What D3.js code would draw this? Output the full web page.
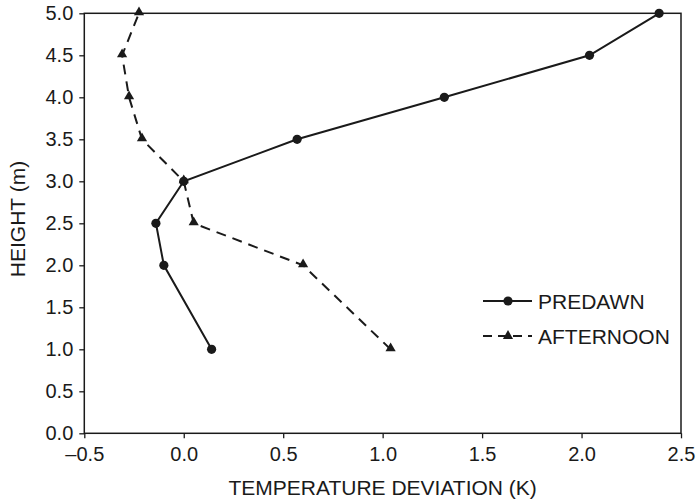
<!DOCTYPE html>
<html>
<head>
<meta charset="utf-8">
<script src="https://cdn.jsdelivr.net/npm/d3@7"></script>
<style>
  body { margin: 0; background: #fff; }
  text { font-family: "Liberation Sans", Arial, Helvetica, sans-serif; fill: #1a1a1a; }
</style>
</head>
<body>
<svg id="chart" width="698" height="501"></svg>
<script>
// Data
const heights = [1.0, 2.0, 2.5, 3.0, 3.5, 4.0, 4.5, 5.0];
const predawn = [0.14, -0.10, -0.14, 0.0, 0.57, 1.31, 2.04, 2.39];
const afternoon = [1.04, 0.60, 0.05, 0.0, -0.21, -0.275, -0.31, -0.225];
const xTicks = [-0.5, 0.0, 0.5, 1.0, 1.5, 2.0, 2.5];
const yTicks = [0.0, 0.5, 1.0, 1.5, 2.0, 2.5, 3.0, 3.5, 4.0, 4.5, 5.0];
const seriesNames = ["PREDAWN", "AFTERNOON"];
const xTitle = "TEMPERATURE DEVIATION (K)";
const yTitle = "HEIGHT (m)";

const svg = d3.select("#chart");
const mLeft = 84.3, mRight = 681, mTop = 13.3, mBottom = 433.3;
const ink = "#1a1a1a";

const x = d3.scaleLinear().domain([-0.5, 2.5]).range([mLeft, mRight]);
const y = d3.scaleLinear().domain([0, 5]).range([mBottom, mTop]);

const fmt = v => (v < 0 ? "\u2013" + Math.abs(v).toFixed(1) : v.toFixed(1));

// Axes
const xAxis = svg.append("g").attr("transform", `translate(0,${mBottom})`)
  .call(d3.axisBottom(x).tickValues(xTicks).tickFormat(fmt).tickSize(5).tickPadding(9).tickSizeOuter(0));
const yAxis = svg.append("g").attr("transform", `translate(${mLeft},0)`)
  .call(d3.axisLeft(y).tickValues(yTicks).tickFormat(d => d.toFixed(1)).tickSize(5).tickPadding(6).tickSizeOuter(0));
[xAxis, yAxis].forEach(g => {
  g.selectAll("path.domain").remove();
  g.selectAll("line").attr("stroke", ink).attr("stroke-width", 1.3);
  g.selectAll("text").attr("font-size", 20).style("fill", ink)
   .attr("font-family", '"Liberation Sans", Arial, sans-serif');
});

// Frame
svg.append("rect").attr("x", mLeft).attr("y", mTop)
  .attr("width", mRight - mLeft).attr("height", mBottom - mTop)
  .attr("fill", "none").attr("stroke", ink).attr("stroke-width", 1.5);

// Titles
svg.append("text").attr("x", (mLeft + mRight) / 2).attr("y", 495)
  .attr("text-anchor", "middle").attr("font-size", 21).text(xTitle);
svg.append("text").attr("transform", "translate(25,219) rotate(-90)")
  .attr("text-anchor", "middle").attr("font-size", 21).text(yTitle);

// Lines
const line = d3.line().x(d => x(d[0])).y(d => y(d[1]));
const pd = heights.map((h, i) => [predawn[i], h]);
const af = heights.map((h, i) => [afternoon[i], h]);

svg.append("path").datum(af).attr("d", line).attr("fill", "none")
  .attr("stroke", ink).attr("stroke-width", 2).attr("stroke-dasharray", "10,7");
svg.append("path").datum(pd).attr("d", line).attr("fill", "none")
  .attr("stroke", ink).attr("stroke-width", 2);

const tri = d3.symbol().type(d3.symbolTriangle).size(45);
svg.selectAll("path.tri").data(af).enter().append("path").attr("class", "tri")
  .attr("d", tri).attr("transform", d => `translate(${x(d[0])},${y(d[1]) - 1})`).attr("fill", ink);
svg.selectAll("circle.pt").data(pd).enter().append("circle").attr("class", "pt")
  .attr("cx", d => x(d[0])).attr("cy", d => y(d[1])).attr("r", 4.6).attr("fill", ink);

// Legend
const lg = svg.append("g");
const lx0 = 483, lx1 = 532, lm = 508;
const ly = [301, 336];
lg.append("line").attr("x1", lx0).attr("x2", lx1).attr("y1", ly[0]).attr("y2", ly[0])
  .attr("stroke", ink).attr("stroke-width", 2);
lg.append("circle").attr("cx", lm).attr("cy", ly[0]).attr("r", 4.6).attr("fill", ink);
lg.append("line").attr("x1", lx0).attr("x2", lx1).attr("y1", ly[1]).attr("y2", ly[1])
  .attr("stroke", ink).attr("stroke-width", 2).attr("stroke-dasharray", "9,6");
lg.append("path").attr("d", tri).attr("transform", `translate(${lm},${ly[1]})`).attr("fill", ink);
seriesNames.forEach((n, i) => {
  lg.append("text").attr("x", 538).attr("y", ly[i] + 7.5).attr("font-size", 21).text(n);
});
</script>
</body>
</html>
